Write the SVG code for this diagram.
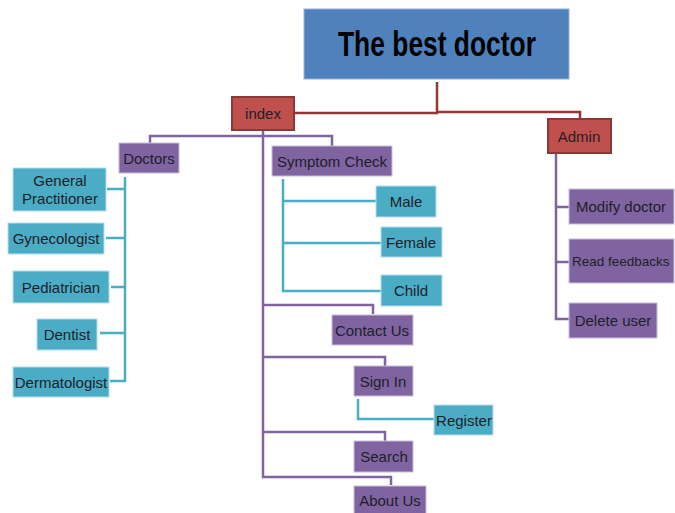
<svg xmlns="http://www.w3.org/2000/svg" width="675" height="513" viewBox="0 0 675 513">
<style>
.red{fill:#C0504D;stroke:#8C3836;stroke-width:2}
.pur{fill:#8064A2;stroke:#C9BCDA;stroke-width:1}
.teal{fill:#4BACC6;stroke:#B7DEE8;stroke-width:1}
.t{font-family:"Liberation Sans",Arial,sans-serif;font-size:15px;fill:#1E1E28;text-anchor:middle;dominant-baseline:central}
.s{text-anchor:start}
.lr{fill:none;stroke:#953735;stroke-width:2.5}
.lp{fill:none;stroke:#8064A2;stroke-width:2.5}
.lt{fill:none;stroke:#4BACC6;stroke-width:2.5}
</style>
<rect width="675" height="513" fill="#fff"/>
<g id="connectors">
<path class="lr" d="M437 82V113H294M437 112H580V119"/>
<path class="lp" d="M263 130V477H391V485M150 143V136H332V146M263 305H373V314M263 357H385V366M263 432H385V441"/>
<path class="lp" d="M556 153V319H569M556 207H569M556 262H569"/>
<path class="lt" d="M125 177V381H110M107 189H125M106 238H125M111 287H125M100 333H125"/>
<path class="lt" d="M283 179V291H381M283 201H376M283 243H381"/>
<path class="lt" d="M358 399V419H434"/>
</g>
<g id="title"><rect x="304" y="9" width="265" height="70" fill="#4F81BD" stroke="#95B3D7" stroke-width="1"/><text x="437" y="43" font-family="Liberation Sans,Arial,sans-serif" font-weight="bold" font-size="35" text-anchor="middle" dominant-baseline="central" textLength="198" lengthAdjust="spacingAndGlyphs" fill="#000">The best doctor</text></g>
<g id="index"><rect class="red" x="232" y="97" width="62" height="33"/><text class="t" x="263" y="113">index</text></g>
<g id="admin"><rect class="red" x="548" y="119" width="63" height="34"/><text class="t" x="579" y="136">Admin</text></g>
<g id="doctors"><rect class="pur" x="119" y="143" width="60" height="30"/><text class="t" x="149" y="158">Doctors</text></g>
<g id="symptom"><rect class="pur" x="272" y="146" width="120" height="30"/><text class="t" x="332" y="161">Symptom Check</text></g>
<g id="gp"><rect class="teal" x="13" y="168" width="93" height="43"/><text class="t" x="60" y="180">General</text><text class="t" x="60" y="198">Practitioner</text></g>
<g id="gyn"><rect class="teal" x="8" y="223" width="96" height="31"/><text class="t" x="56" y="238">Gynecologist</text></g>
<g id="ped"><rect class="teal" x="13" y="271" width="96" height="32"/><text class="t" x="61" y="287">Pediatrician</text></g>
<g id="dentist"><rect class="teal" x="37" y="319" width="60" height="31"/><text class="t" x="67" y="334">Dentist</text></g>
<g id="derm"><rect class="teal" x="13" y="367" width="96" height="30"/><text class="t" x="61" y="382">Dermatologist</text></g>
<g id="male"><rect class="teal" x="376" y="186" width="60" height="31"/><text class="t" x="406" y="201">Male</text></g>
<g id="female"><rect class="teal" x="381" y="227" width="61" height="30"/><text class="t" x="411" y="242">Female</text></g>
<g id="child"><rect class="teal" x="381" y="275" width="61" height="31"/><text class="t" x="411" y="290">Child</text></g>
<g id="contact"><rect class="pur" x="332" y="315" width="81" height="30"/><text class="t" x="372" y="330">Contact Us</text></g>
<g id="signin"><rect class="pur" x="354" y="366" width="59" height="30"/><text class="t" x="383" y="381">Sign In</text></g>
<g id="register"><rect class="teal" x="434" y="405" width="59" height="30"/><text class="t" x="464" y="420">Register</text></g>
<g id="search"><rect class="pur" x="354" y="441" width="59" height="31"/><text class="t" x="384" y="456">Search</text></g>
<g id="about"><rect class="pur" x="354" y="486" width="72" height="30"/><text class="t" x="390" y="500">About Us</text></g>
<g id="modify"><rect class="pur" x="569" y="189" width="105" height="35"/><text class="t s" x="576" y="206">Modify doctor</text></g>
<g id="read"><rect class="pur" x="569" y="239" width="105" height="44"/><text class="t s" x="572" y="261" style="font-size:13.5px">Read feedbacks</text></g>
<g id="delete"><rect class="pur" x="569" y="303" width="88" height="35"/><text class="t" x="613" y="320">Delete user</text></g>
</svg>
